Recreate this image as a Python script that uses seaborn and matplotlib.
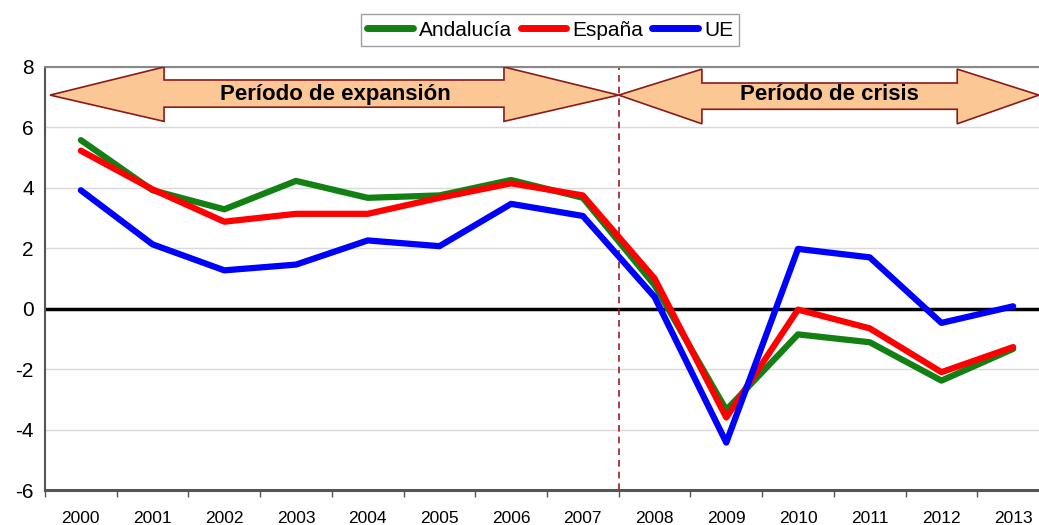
import seaborn as sns
import matplotlib.pyplot as plt
from matplotlib.patches import Polygon
import numpy as np
import pandas as pd

years = [str(y) for y in range(2000, 2014)]
andalucia = [5.58, 3.92, 3.29, 4.23, 3.67, 3.75, 4.26, 3.67, 0.78, -3.35, -0.85, -1.11, -2.38, -1.33]
espana = [5.23, 3.95, 2.88, 3.14, 3.14, 3.67, 4.15, 3.75, 1.0, -3.6, -0.03, -0.65, -2.1, -1.27]
ue = [3.92, 2.13, 1.27, 1.46, 2.26, 2.07, 3.47, 3.07, 0.39, -4.43, 1.98, 1.70, -0.47, 0.08]
series_names = ['Andalucía', 'España', 'UE']
colors = ['#138013', '#ff0000', '#0000ff']
y_ticks = [-6, -4, -2, 0, 2, 4, 6, 8]

df = pd.DataFrame({
    'year': years * 3,
    'value': andalucia + espana + ue,
    'serie': np.repeat(series_names, len(years)),
})

sns.set_style('white')
plt.rcParams['font.family'] = ['Liberation Sans', 'DejaVu Sans']
plt.rcParams['axes.unicode_minus'] = False
plt.rcParams['text.color'] = 'black'
plt.rcParams['xtick.labelcolor'] = 'black'
plt.rcParams['ytick.labelcolor'] = 'black'

fig = plt.figure(figsize=(10.39, 5.25), dpi=100)
ax = fig.add_axes([45 / 1039, 1 - 490 / 525, 1004 / 1039, 423 / 525])

# grid + zero line
for v in y_ticks:
    ax.axhline(v, color='#d9d9d9', lw=1, zorder=0)
ax.axhline(0, color='black', lw=2.5, zorder=1)

sns.lineplot(data=df, x='year', y='value', hue='serie', palette=colors,
             lw=4.5, ax=ax, legend=False, zorder=3)

# crisis separator
ax.axvline(7.5, color='#a01c1c', lw=1.2, ls=(0, (4, 3)), zorder=2)

# period arrows
edge = '#8b1a1a'
fill = '#fac795'
left_arrow = [(-0.43, 7.07), (1.16, 8.0), (1.16, 7.57), (5.9, 7.57), (5.9, 8.0),
              (7.5, 7.07), (5.9, 6.2), (5.9, 6.67), (1.16, 6.67), (1.16, 6.2)]
right_arrow = [(7.5, 7.07), (8.66, 7.93), (8.66, 7.47), (12.22, 7.47), (12.22, 7.93),
               (13.36, 7.07), (12.22, 6.12), (12.22, 6.6), (8.66, 6.6), (8.66, 6.12)]
for pts in (left_arrow, right_arrow):
    ax.add_patch(Polygon(pts, closed=True, facecolor=fill, edgecolor=edge, lw=1.2, zorder=4))
ax.text(3.55, 7.1, 'Período de expansión', ha='center', va='center',
        fontsize=16, fontweight='bold', zorder=5)
ax.text(10.44, 7.1, 'Período de crisis', ha='center', va='center',
        fontsize=16, fontweight='bold', zorder=5)

ax.set_xlim(-0.5, 13.5)
ax.set_ylim(-6, 8)
ax.set_yticks(y_ticks)
ax.set_xticks(range(len(years)))
ax.set_xticklabels(years)
ax.set_xticks(np.arange(-0.5, len(years)), minor=True)
ax.tick_params(axis='x', which='major', length=0, pad=15, labelsize=12.5)
ax.tick_params(axis='x', which='minor', length=5, color='#555555', width=1, direction='out')
ax.tick_params(axis='y', length=5, color='#555555', width=1, direction='out', labelsize=15, pad=3)
ax.xaxis.set_tick_params(which='minor', bottom=True)
ax.set_xlabel('')
ax.set_ylabel('')

for side in ['left', 'bottom']:
    ax.spines[side].set_color('#555555')
ax.spines['left'].set_linewidth(1.5)
ax.spines['bottom'].set_linewidth(2.2)
ax.spines['top'].set_color('#888888')
ax.spines['top'].set_linewidth(1.5)
ax.spines['right'].set_visible(False)

handles = [plt.Line2D([], [], color=c, lw=5) for c in colors]
leg = fig.legend(handles, series_names, loc='center', bbox_to_anchor=(550 / 1039, 1 - 30 / 525),
                 ncol=3, frameon=True, fancybox=False, fontsize=15, handlelength=2.2,
                 handletextpad=0.3, columnspacing=0.4, borderpad=0.3)
leg.get_frame().set_edgecolor('#888888')
leg.get_frame().set_linewidth(1)

plt.savefig('out.png', dpi=100)
